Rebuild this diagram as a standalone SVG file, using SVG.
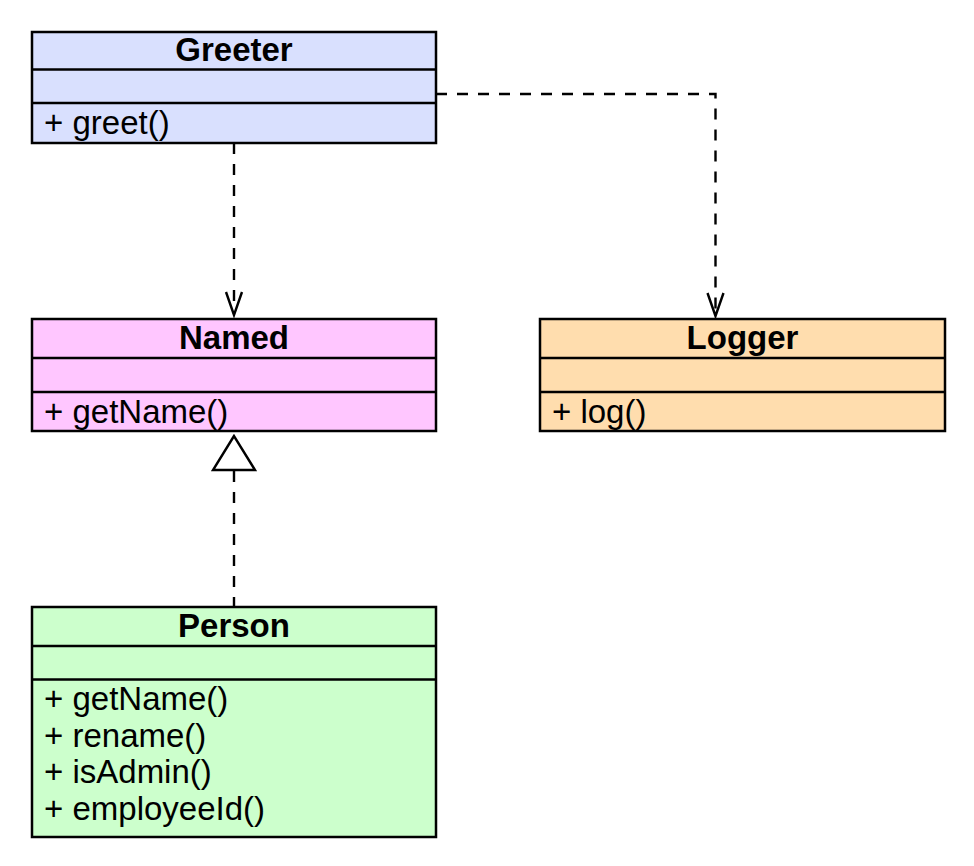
<svg xmlns="http://www.w3.org/2000/svg" width="974" height="866" viewBox="0 0 974 866">
<defs>
<style>
.box{stroke:#000;stroke-width:2.5}
.div{stroke:#000;stroke-width:2.5}
.title{font-family:"Liberation Sans",Arial,sans-serif;font-weight:bold;font-size:33px;text-anchor:middle;fill:#000}
.m{font-family:"Liberation Sans",Arial,sans-serif;font-size:33px;fill:#000}
.dash{fill:none;stroke:#000;stroke-width:2.4;stroke-dasharray:11 10}
.head{fill:none;stroke:#000;stroke-width:2.4}
</style>
</defs>
<rect width="974" height="866" fill="#fff"/>
<g id="connectors">
<line class="dash" x1="234" y1="143" x2="234" y2="313"/>
<path class="head" d="M226,292 L234,315 L242,292"/>
<polyline class="dash" points="436,94 715.5,94 715.5,313"/>
<path class="head" d="M707.5,293 L715.5,316 L723.5,293"/>
<line class="dash" x1="234" y1="471" x2="234" y2="607"/>
<polygon points="234,436 213,470 255,470" fill="#fff" stroke="#000" stroke-width="2.4"/>
</g>
<g id="Greeter">
<rect class="box" x="32" y="32" width="404" height="111" fill="#D9E0FE"/>
<line class="div" x1="32" y1="69.5" x2="436" y2="69.5"/>
<line class="div" x1="32" y1="103" x2="436" y2="103"/>
<text class="title" x="234" y="61">Greeter</text>
<text class="m" x="44" y="134">+ greet()</text>
</g>
<g id="Named">
<rect class="box" x="32" y="319" width="404" height="112" fill="#FFC6FF"/>
<line class="div" x1="32" y1="358" x2="436" y2="358"/>
<line class="div" x1="32" y1="392" x2="436" y2="392"/>
<text class="title" x="234" y="348.5">Named</text>
<text class="m" x="44" y="423">+ getName()</text>
</g>
<g id="Logger">
<rect class="box" x="540" y="319" width="405" height="112" fill="#FFDDAE"/>
<line class="div" x1="540" y1="358" x2="945" y2="358"/>
<line class="div" x1="540" y1="392" x2="945" y2="392"/>
<text class="title" x="742.5" y="348.5">Logger</text>
<text class="m" x="552" y="423">+ log()</text>
</g>
<g id="Person">
<rect class="box" x="32" y="607" width="404" height="230" fill="#CCFFCC"/>
<line class="div" x1="32" y1="646" x2="436" y2="646"/>
<line class="div" x1="32" y1="679.5" x2="436" y2="679.5"/>
<text class="title" x="234" y="636.5">Person</text>
<text class="m" x="44" y="710">+ getName()</text>
<text class="m" x="44" y="746.7">+ rename()</text>
<text class="m" x="44" y="783.3">+ isAdmin()</text>
<text class="m" x="44" y="820">+ employeeId()</text>
</g>
</svg>
